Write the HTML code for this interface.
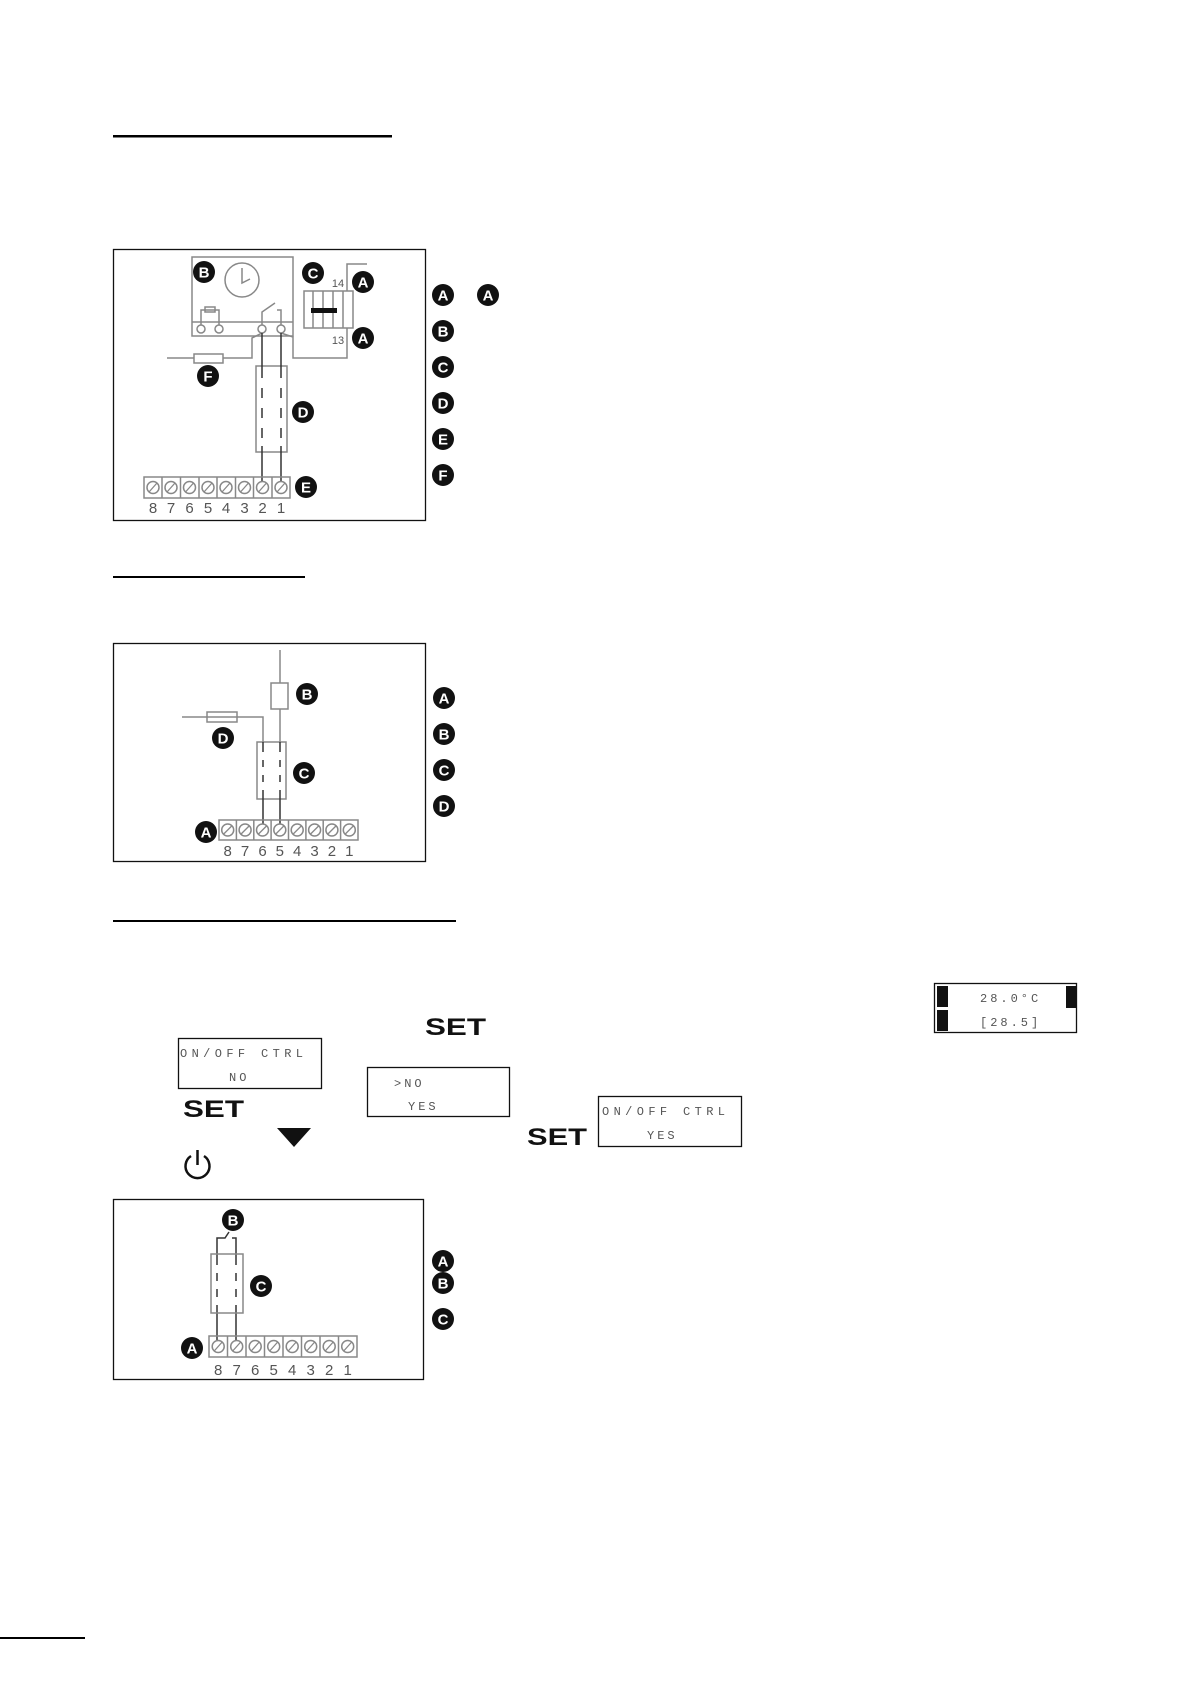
<!DOCTYPE html>
<html><head><meta charset="utf-8"><style>
html,body{margin:0;padding:0;background:#fff;}
svg{display:block;}
.bt{font-family:"Liberation Sans",sans-serif;font-weight:bold;font-size:15px;fill:#fff;text-anchor:middle;}
.num{font-family:"Liberation Sans",sans-serif;font-size:15px;fill:#555;text-anchor:middle;}
.lcd{font-family:"Liberation Mono",monospace;font-size:12px;fill:#555;letter-spacing:3px;}
.set{font-family:"Liberation Sans",sans-serif;font-weight:bold;font-size:24px;fill:#111;}
.g{stroke:#888;stroke-width:1.5;fill:none;}
.k{stroke:#333;stroke-width:1.5;fill:none;}
</style></head><body>
<svg width="1191" height="1684" viewBox="0 0 1191 1684" xmlns="http://www.w3.org/2000/svg">
<defs>
<g id="bd"><circle r="11" fill="#111"/></g>
</defs>
<!-- underlines -->
<rect x="113" y="135" width="279" height="2.5" fill="#000"/>
<rect x="113" y="576" width="192" height="2" fill="#000"/>
<rect x="113" y="920" width="343" height="2" fill="#000"/>
<rect x="0" y="1637" width="85" height="2" fill="#000"/>

<!-- Diagram 1 -->
<rect x="113.5" y="249.5" width="312" height="271" fill="none" stroke="#111" stroke-width="1.3"/>
<rect x="192" y="257" width="101" height="79" class="g"/>
<line x1="192" y1="322" x2="293" y2="322" class="g"/>
<circle cx="242" cy="280" r="17" class="g"/>
<polyline points="242,268 242,283 250,279" class="g"/>
<circle cx="201" cy="329" r="4" class="g"/><circle cx="219" cy="329" r="4" class="g"/>
<circle cx="262" cy="329" r="4" class="g"/><circle cx="281" cy="329" r="4" class="g"/>
<polyline points="201,325 201,310 219,310 219,325" class="g"/>
<rect x="205" y="307" width="10" height="5" class="g" fill="#fff"/>
<polyline points="262,325 262,312 275,303" class="g"/>
<polyline points="281,325 281,310 277,310" class="g"/>
<!-- contactor -->
<rect x="304" y="291" width="49" height="37" class="g"/>
<line x1="313" y1="291" x2="313" y2="328" class="g"/><line x1="323" y1="291" x2="323" y2="328" class="g"/><line x1="333" y1="291" x2="333" y2="328" class="g"/><line x1="343" y1="291" x2="343" y2="328" class="g"/>
<rect x="311" y="308" width="26" height="5" fill="#111"/>
<polyline points="347,291 347,264 367,264" class="g"/>
<polyline points="347,328 347,358 293,358 293,337 281,333" class="g"/>
<polyline points="262,333 252,338 252,358 223,358" class="g"/>
<line x1="194" y1="358" x2="167" y2="358" class="g"/>
<rect x="194" y="354" width="29" height="9" class="g"/>
<text x="338" y="287" class="num" style="font-size:11px">14</text>
<text x="338" y="344" class="num" style="font-size:11px">13</text>
<!-- cable -->
<rect x="256" y="366" width="31" height="86" class="g"/>
<line x1="262" y1="333" x2="262" y2="481" class="k"/>
<line x1="281" y1="333" x2="281" y2="481" class="k"/>
<line x1="262" y1="372" x2="262" y2="446" stroke="#fff" stroke-width="2" stroke-dasharray="0 6 10 4"/>
<line x1="281" y1="372" x2="281" y2="446" stroke="#fff" stroke-width="2" stroke-dasharray="0 6 10 4"/>
<!-- strip -->
<g class="g">
<rect x="144" y="477" width="146" height="21"/>
<line x1="162" y1="477" x2="162" y2="498"/><line x1="180.5" y1="477" x2="180.5" y2="498"/><line x1="199" y1="477" x2="199" y2="498"/><line x1="217" y1="477" x2="217" y2="498"/><line x1="235.5" y1="477" x2="235.5" y2="498"/><line x1="253.5" y1="477" x2="253.5" y2="498"/><line x1="272" y1="477" x2="272" y2="498"/>
</g>
<g class="g">
<circle cx="153" cy="487.5" r="6"/><circle cx="171" cy="487.5" r="6"/><circle cx="189.5" cy="487.5" r="6"/><circle cx="208" cy="487.5" r="6"/><circle cx="226" cy="487.5" r="6"/><circle cx="244.5" cy="487.5" r="6"/><circle cx="262.5" cy="487.5" r="6"/><circle cx="281" cy="487.5" r="6"/>
</g>
<g stroke="#888" stroke-width="1.3">
<line x1="149" y1="492" x2="157" y2="483"/><line x1="167" y1="492" x2="175" y2="483"/><line x1="185.5" y1="492" x2="193.5" y2="483"/><line x1="204" y1="492" x2="212" y2="483"/><line x1="222" y1="492" x2="230" y2="483"/><line x1="240.5" y1="492" x2="248.5" y2="483"/><line x1="258.5" y1="492" x2="266.5" y2="483"/><line x1="277" y1="492" x2="285" y2="483"/>
</g>
<g class="num"><text x="153" y="513">8</text><text x="171" y="513">7</text><text x="189.5" y="513">6</text><text x="208" y="513">5</text><text x="226" y="513">4</text><text x="244.5" y="513">3</text><text x="262.5" y="513">2</text><text x="281" y="513">1</text></g>
<!-- badges d1 -->
<circle cx="204" cy="272" r="11" fill="#111"/><text x="204" y="277.5" class="bt">B</text>
<circle cx="313" cy="273" r="11" fill="#111"/><text x="313" y="278.5" class="bt">C</text>
<circle cx="363" cy="282" r="11" fill="#111"/><text x="363" y="287.5" class="bt">A</text>
<circle cx="363" cy="338" r="11" fill="#111"/><text x="363" y="343.5" class="bt">A</text>
<circle cx="208" cy="376" r="11" fill="#111"/><text x="208" y="381.5" class="bt">F</text>
<circle cx="303" cy="412" r="11" fill="#111"/><text x="303" y="417.5" class="bt">D</text>
<circle cx="306" cy="487" r="11" fill="#111"/><text x="306" y="492.5" class="bt">E</text>
<circle cx="443" cy="295" r="11" fill="#111"/><text x="443" y="300.5" class="bt">A</text>
<circle cx="488" cy="295" r="11" fill="#111"/><text x="488" y="300.5" class="bt">A</text>
<circle cx="443" cy="331" r="11" fill="#111"/><text x="443" y="336.5" class="bt">B</text>
<circle cx="443" cy="367" r="11" fill="#111"/><text x="443" y="372.5" class="bt">C</text>
<circle cx="443" cy="403" r="11" fill="#111"/><text x="443" y="408.5" class="bt">D</text>
<circle cx="443" cy="439" r="11" fill="#111"/><text x="443" y="444.5" class="bt">E</text>
<circle cx="443" cy="475" r="11" fill="#111"/><text x="443" y="480.5" class="bt">F</text>

<!-- Diagram 2 -->
<rect x="113.5" y="643.5" width="312" height="218" fill="none" stroke="#111" stroke-width="1.3"/>
<line x1="280" y1="650" x2="280" y2="683" class="g"/>
<rect x="271" y="683" width="17" height="26" class="g"/>
<line x1="280" y1="709" x2="280" y2="742" class="g"/>
<polyline points="182,717 263,717 263,742" class="g"/>
<rect x="207" y="712" width="30" height="10" class="g" fill="#fff"/>
<rect x="257" y="742" width="29" height="57" class="g"/>
<line x1="263" y1="742" x2="263" y2="824" class="k" stroke="#666"/>
<line x1="280" y1="742" x2="280" y2="824" class="k" stroke="#666"/>
<line x1="263" y1="748" x2="263" y2="794" stroke="#fff" stroke-width="2" stroke-dasharray="0 4 8 3"/>
<line x1="280" y1="748" x2="280" y2="794" stroke="#fff" stroke-width="2" stroke-dasharray="0 4 8 3"/>
<g class="g"><rect x="219" y="820" width="139" height="20"/>
<line x1="236.4" y1="820" x2="236.4" y2="840"/><line x1="253.8" y1="820" x2="253.8" y2="840"/><line x1="271.1" y1="820" x2="271.1" y2="840"/><line x1="288.5" y1="820" x2="288.5" y2="840"/><line x1="305.9" y1="820" x2="305.9" y2="840"/><line x1="323.2" y1="820" x2="323.2" y2="840"/><line x1="340.6" y1="820" x2="340.6" y2="840"/>
<circle cx="227.7" cy="830" r="6"/><circle cx="245.1" cy="830" r="6"/><circle cx="262.5" cy="830" r="6"/><circle cx="279.8" cy="830" r="6"/><circle cx="297.2" cy="830" r="6"/><circle cx="314.6" cy="830" r="6"/><circle cx="331.9" cy="830" r="6"/><circle cx="349.3" cy="830" r="6"/></g>
<g stroke="#888" stroke-width="1.3"><line x1="223.7" y1="834" x2="231.7" y2="826"/><line x1="241.1" y1="834" x2="249.1" y2="826"/><line x1="258.5" y1="834" x2="266.5" y2="826"/><line x1="275.8" y1="834" x2="283.8" y2="826"/><line x1="293.2" y1="834" x2="301.2" y2="826"/><line x1="310.6" y1="834" x2="318.6" y2="826"/><line x1="327.9" y1="834" x2="335.9" y2="826"/><line x1="345.3" y1="834" x2="353.3" y2="826"/></g>
<g class="num"><text x="227.7" y="856">8</text><text x="245.1" y="856">7</text><text x="262.5" y="856">6</text><text x="279.8" y="856">5</text><text x="297.2" y="856">4</text><text x="314.6" y="856">3</text><text x="331.9" y="856">2</text><text x="349.3" y="856">1</text></g>
<circle cx="307" cy="694" r="11" fill="#111"/><text x="307" y="699.5" class="bt">B</text>
<circle cx="223" cy="738" r="11" fill="#111"/><text x="223" y="743.5" class="bt">D</text>
<circle cx="304" cy="773" r="11" fill="#111"/><text x="304" y="778.5" class="bt">C</text>
<circle cx="206" cy="832" r="11" fill="#111"/><text x="206" y="837.5" class="bt">A</text>
<circle cx="444" cy="698" r="11" fill="#111"/><text x="444" y="703.5" class="bt">A</text>
<circle cx="444" cy="734" r="11" fill="#111"/><text x="444" y="739.5" class="bt">B</text>
<circle cx="444" cy="770" r="11" fill="#111"/><text x="444" y="775.5" class="bt">C</text>
<circle cx="444" cy="806" r="11" fill="#111"/><text x="444" y="811.5" class="bt">D</text>

<!-- Display section -->
<rect x="934.5" y="983.5" width="142" height="49" fill="#fff" stroke="#111" stroke-width="1.3"/>
<rect x="937" y="986" width="11" height="21" fill="#111"/>
<rect x="937" y="1010" width="11" height="21" fill="#111"/>
<rect x="1066" y="986" width="10" height="22" fill="#111"/>
<text x="980" y="1002" class="lcd">28.0°C</text>
<text x="980" y="1026" class="lcd">[28.5]</text>

<text x="425" y="1035" class="set" textLength="61" lengthAdjust="spacingAndGlyphs">SET</text>
<rect x="178.5" y="1038.5" width="143" height="50" fill="none" stroke="#111" stroke-width="1.3"/>
<text x="180" y="1057" class="lcd" textLength="126" lengthAdjust="spacing">ON/OFF CTRL</text>
<text x="229" y="1081" class="lcd">NO</text>
<text x="183" y="1117" class="set" textLength="61" lengthAdjust="spacingAndGlyphs">SET</text>
<rect x="367.5" y="1067.5" width="142" height="49" fill="none" stroke="#111" stroke-width="1.3"/>
<text x="394" y="1087" class="lcd">&gt;NO</text>
<text x="408" y="1110" class="lcd">YES</text>
<polygon points="277,1128 311,1128 294,1147" fill="#111"/>
<text x="527" y="1145" class="set" textLength="60" lengthAdjust="spacingAndGlyphs">SET</text>
<rect x="598.5" y="1096.5" width="143" height="50" fill="none" stroke="#111" stroke-width="1.3"/>
<text x="602" y="1115" class="lcd" textLength="126" lengthAdjust="spacing">ON/OFF CTRL</text>
<text x="647" y="1139" class="lcd">YES</text>
<!-- power icon -->
<path d="M191,1156 A12,12 0 1 0 204,1156" fill="none" stroke="#111" stroke-width="2.5"/>
<line x1="197.5" y1="1150" x2="197.5" y2="1165" stroke="#111" stroke-width="2.5"/>

<!-- Diagram 3 -->
<rect x="113.5" y="1199.5" width="310" height="180" fill="none" stroke="#111" stroke-width="1.3"/>
<polyline points="217,1340 217,1238 225,1238 229,1232" class="k" stroke="#555"/>
<polyline points="236,1340 236,1238 232,1238" class="k" stroke="#555"/>
<rect x="211" y="1254" width="32" height="59" class="g"/>
<line x1="217" y1="1260" x2="217" y2="1308" stroke="#fff" stroke-width="2" stroke-dasharray="0 5 8 3"/>
<line x1="236" y1="1260" x2="236" y2="1308" stroke="#fff" stroke-width="2" stroke-dasharray="0 5 8 3"/>
<g class="g"><rect x="209" y="1336" width="148" height="21"/>
<line x1="227.5" y1="1336" x2="227.5" y2="1357"/><line x1="246" y1="1336" x2="246" y2="1357"/><line x1="264.5" y1="1336" x2="264.5" y2="1357"/><line x1="283" y1="1336" x2="283" y2="1357"/><line x1="301.5" y1="1336" x2="301.5" y2="1357"/><line x1="320" y1="1336" x2="320" y2="1357"/><line x1="338.5" y1="1336" x2="338.5" y2="1357"/>
<circle cx="218.2" cy="1346.5" r="6"/><circle cx="236.7" cy="1346.5" r="6"/><circle cx="255.2" cy="1346.5" r="6"/><circle cx="273.7" cy="1346.5" r="6"/><circle cx="292.2" cy="1346.5" r="6"/><circle cx="310.7" cy="1346.5" r="6"/><circle cx="329.2" cy="1346.5" r="6"/><circle cx="347.7" cy="1346.5" r="6"/></g>
<g stroke="#888" stroke-width="1.3"><line x1="214.2" y1="1351" x2="222.2" y2="1342"/><line x1="232.7" y1="1351" x2="240.7" y2="1342"/><line x1="251.2" y1="1351" x2="259.2" y2="1342"/><line x1="269.7" y1="1351" x2="277.7" y2="1342"/><line x1="288.2" y1="1351" x2="296.2" y2="1342"/><line x1="306.7" y1="1351" x2="314.7" y2="1342"/><line x1="325.2" y1="1351" x2="333.2" y2="1342"/><line x1="343.7" y1="1351" x2="351.7" y2="1342"/></g>
<g class="num"><text x="218.2" y="1375">8</text><text x="236.7" y="1375">7</text><text x="255.2" y="1375">6</text><text x="273.7" y="1375">5</text><text x="292.2" y="1375">4</text><text x="310.7" y="1375">3</text><text x="329.2" y="1375">2</text><text x="347.7" y="1375">1</text></g>
<circle cx="233" cy="1220" r="11" fill="#111"/><text x="233" y="1225.5" class="bt">B</text>
<circle cx="261" cy="1286" r="11" fill="#111"/><text x="261" y="1291.5" class="bt">C</text>
<circle cx="192" cy="1348" r="11" fill="#111"/><text x="192" y="1353.5" class="bt">A</text>
<circle cx="443" cy="1261" r="11" fill="#111"/><text x="443" y="1266.5" class="bt">A</text>
<circle cx="443" cy="1283" r="11" fill="#111"/><text x="443" y="1288.5" class="bt">B</text>
<circle cx="443" cy="1319" r="11" fill="#111"/><text x="443" y="1324.5" class="bt">C</text>
</svg>
</body></html>
